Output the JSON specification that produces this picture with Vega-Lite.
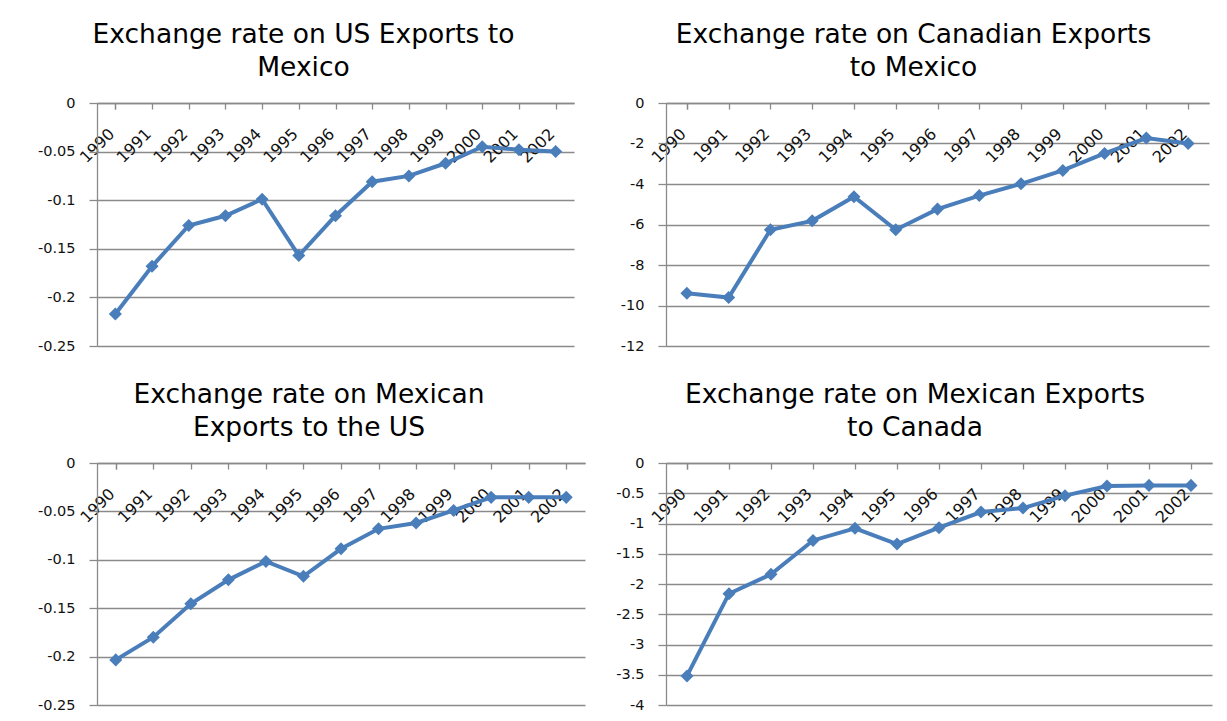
{
  "$schema": "https://vega.github.io/schema/vega-lite/v6.json",
  "background": "white",
  "padding": {"left": 37, "top": 21, "right": 5, "bottom": 5},
  "datasets": {
    "rates": [
      {"panel": "p1", "year": "1990", "value": -0.217},
      {"panel": "p1", "year": "1991", "value": -0.168},
      {"panel": "p1", "year": "1992", "value": -0.126},
      {"panel": "p1", "year": "1993", "value": -0.116},
      {"panel": "p1", "year": "1994", "value": -0.099},
      {"panel": "p1", "year": "1995", "value": -0.157},
      {"panel": "p1", "year": "1996", "value": -0.116},
      {"panel": "p1", "year": "1997", "value": -0.081},
      {"panel": "p1", "year": "1998", "value": -0.075},
      {"panel": "p1", "year": "1999", "value": -0.062},
      {"panel": "p1", "year": "2000", "value": -0.045},
      {"panel": "p1", "year": "2001", "value": -0.048},
      {"panel": "p1", "year": "2002", "value": -0.050},
      {"panel": "p2", "year": "1990", "value": -9.39},
      {"panel": "p2", "year": "1991", "value": -9.61},
      {"panel": "p2", "year": "1992", "value": -6.26},
      {"panel": "p2", "year": "1993", "value": -5.82},
      {"panel": "p2", "year": "1994", "value": -4.63},
      {"panel": "p2", "year": "1995", "value": -6.26},
      {"panel": "p2", "year": "1996", "value": -5.24},
      {"panel": "p2", "year": "1997", "value": -4.57},
      {"panel": "p2", "year": "1998", "value": -3.99},
      {"panel": "p2", "year": "1999", "value": -3.33},
      {"panel": "p2", "year": "2000", "value": -2.49},
      {"panel": "p2", "year": "2001", "value": -1.73},
      {"panel": "p2", "year": "2002", "value": -2.0},
      {"panel": "p3", "year": "1990", "value": -0.2034},
      {"panel": "p3", "year": "1991", "value": -0.180},
      {"panel": "p3", "year": "1992", "value": -0.1455},
      {"panel": "p3", "year": "1993", "value": -0.1207},
      {"panel": "p3", "year": "1994", "value": -0.1017},
      {"panel": "p3", "year": "1995", "value": -0.117},
      {"panel": "p3", "year": "1996", "value": -0.0886},
      {"panel": "p3", "year": "1997", "value": -0.068},
      {"panel": "p3", "year": "1998", "value": -0.062},
      {"panel": "p3", "year": "1999", "value": -0.049},
      {"panel": "p3", "year": "2000", "value": -0.0355},
      {"panel": "p3", "year": "2001", "value": -0.0355},
      {"panel": "p3", "year": "2002", "value": -0.0355},
      {"panel": "p4", "year": "1990", "value": -3.52},
      {"panel": "p4", "year": "1991", "value": -2.16},
      {"panel": "p4", "year": "1992", "value": -1.84},
      {"panel": "p4", "year": "1993", "value": -1.28},
      {"panel": "p4", "year": "1994", "value": -1.08},
      {"panel": "p4", "year": "1995", "value": -1.34},
      {"panel": "p4", "year": "1996", "value": -1.07},
      {"panel": "p4", "year": "1997", "value": -0.81},
      {"panel": "p4", "year": "1998", "value": -0.745},
      {"panel": "p4", "year": "1999", "value": -0.54},
      {"panel": "p4", "year": "2000", "value": -0.38},
      {"panel": "p4", "year": "2001", "value": -0.37},
      {"panel": "p4", "year": "2002", "value": -0.37}
    ]
  },
  "data": {"name": "rates"},
  "columns": 2,
  "align": "each",
  "bounds": "flush",
  "spacing": {"row": 117, "column": 81},
  "concat": [
    {
      "width": 477, "height": 243,
      "title": {"text": ["Exchange rate on US Exports to", "Mexico"], "dx": -32},
      "transform": [{"filter": "datum.panel == 'p1'"}],
      "encoding": {
        "x": {"field": "year", "type": "ordinal", "axis": {"offset": -243}},
        "y": {"field": "value", "type": "quantitative", "scale": {"domain": [-0.25, 0], "nice": false, "zero": false},
              "axis": {"values": [0, -0.05, -0.1, -0.15, -0.2, -0.25]}}
      },
      "layer": [
        {"mark": {"type": "line", "color": "#4A7EBB", "strokeWidth": 4}},
        {"mark": {"type": "point", "shape": "diamond", "filled": true, "opacity": 1, "size": 170, "color": "#4A7EBB"}}
      ]
    },
    {
      "width": 543, "height": 243,
      "title": {"text": ["Exchange rate on Canadian Exports", "to Mexico"], "dx": -24},
      "transform": [{"filter": "datum.panel == 'p2'"}],
      "encoding": {
        "x": {"field": "year", "type": "ordinal", "axis": {"offset": -243}},
        "y": {"field": "value", "type": "quantitative", "scale": {"domain": [-12, 0], "nice": false, "zero": false},
              "axis": {"values": [0, -2, -4, -6, -8, -10, -12]}}
      },
      "layer": [
        {"mark": {"type": "line", "color": "#4A7EBB", "strokeWidth": 4}},
        {"mark": {"type": "point", "shape": "diamond", "filled": true, "opacity": 1, "size": 170, "color": "#4A7EBB"}}
      ]
    },
    {
      "width": 488, "height": 242,
      "title": {"text": ["Exchange rate on Mexican", "Exports to the US"], "dx": -32},
      "transform": [{"filter": "datum.panel == 'p3'"}],
      "encoding": {
        "x": {"field": "year", "type": "ordinal", "axis": {"offset": -242}},
        "y": {"field": "value", "type": "quantitative", "scale": {"domain": [-0.25, 0], "nice": false, "zero": false},
              "axis": {"values": [0, -0.05, -0.1, -0.15, -0.2, -0.25]}}
      },
      "layer": [
        {"mark": {"type": "line", "color": "#4A7EBB", "strokeWidth": 4}},
        {"mark": {"type": "point", "shape": "diamond", "filled": true, "opacity": 1, "size": 170, "color": "#4A7EBB"}}
      ]
    },
    {
      "width": 546, "height": 242,
      "title": {"text": ["Exchange rate on Mexican Exports", "to Canada"], "dx": -24},
      "transform": [{"filter": "datum.panel == 'p4'"}],
      "encoding": {
        "x": {"field": "year", "type": "ordinal", "axis": {"offset": -242}},
        "y": {"field": "value", "type": "quantitative", "scale": {"domain": [-4, 0], "nice": false, "zero": false},
              "axis": {"values": [0, -0.5, -1, -1.5, -2, -2.5, -3, -3.5, -4]}}
      },
      "layer": [
        {"mark": {"type": "line", "color": "#4A7EBB", "strokeWidth": 4}},
        {"mark": {"type": "point", "shape": "diamond", "filled": true, "opacity": 1, "size": 170, "color": "#4A7EBB"}}
      ]
    }
  ],
  "config": {
    "view": {"stroke": null},
    "title": {"font": "DejaVu Sans", "fontSize": 26.5, "fontWeight": "normal", "color": "#000000", "lineHeight": 33, "anchor": "middle", "offset": 14},
    "axis": {"labelFont": "DejaVu Sans", "labelFontSize": 14.5, "labelColor": "#111111", "domainColor": "#8a8a8a", "tickColor": "#8a8a8a", "gridColor": "#8a8a8a", "gridOpacity": 1, "domainWidth": 1.3, "tickWidth": 1.3, "gridWidth": 1.3, "title": null},
    "axisX": {"orient": "bottom", "labelAngle": -45, "labelAlign": "right", "labelBaseline": "middle", "labelPadding": 22, "labelOffset": -4, "tickSize": 6, "tickBand": "extent", "grid": false, "labelOverlap": false, "labelFontSize": 16},
    "axisY": {"tickSize": 8, "labelPadding": 14, "grid": true, "labelExpr": "'' + datum.value", "labelOverlap": false}
  }
}
